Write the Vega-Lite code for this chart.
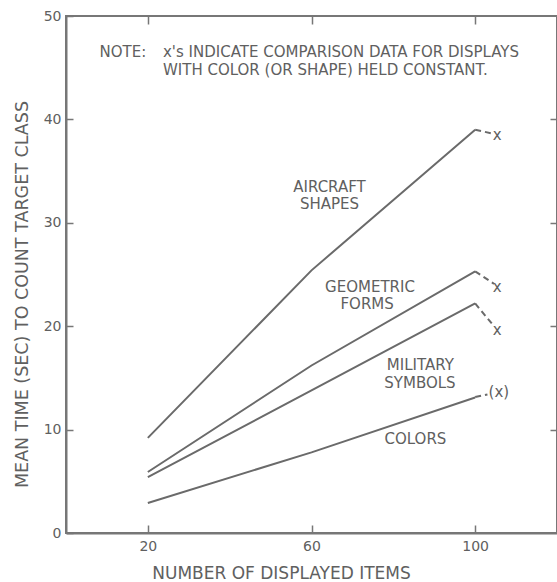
{
  "$schema": "https://vega.github.io/schema/vega-lite/v6.json",
  "width": 491,
  "height": 517,
  "autosize": {"type": "none"},
  "padding": {"left": 66, "top": 16, "right": 0, "bottom": 49},
  "background": "white",
  "config": {
    "view": {"stroke": "#777", "strokeWidth": 2},
    "font": "DejaVu Sans",
    "axis": {"grid": false, "domainColor": "#777", "domainWidth": 2, "tickColor": "#777", "tickWidth": 1.5, "labelColor": "#606060", "titleColor": "#606060", "labelFont": "DejaVu Sans", "titleFont": "DejaVu Sans"}
  },
  "datasets": {
    "main": [
      {"series": "aircraft", "x": 20, "y": 9.2}, {"series": "aircraft", "x": 60, "y": 25.4}, {"series": "aircraft", "x": 100, "y": 39.0},
      {"series": "geometric", "x": 20, "y": 5.9}, {"series": "geometric", "x": 60, "y": 16.2}, {"series": "geometric", "x": 100, "y": 25.3},
      {"series": "military", "x": 20, "y": 5.4}, {"series": "military", "x": 60, "y": 13.8}, {"series": "military", "x": 100, "y": 22.2},
      {"series": "colors", "x": 20, "y": 2.9}, {"series": "colors", "x": 60, "y": 7.8}, {"series": "colors", "x": 100, "y": 13.1}
    ],
    "dashes": [
      {"series": "aircraft", "x": 100, "y": 39.0}, {"series": "aircraft", "x": 104.6, "y": 38.6},
      {"series": "geometric", "x": 100, "y": 25.3}, {"series": "geometric", "x": 104.6, "y": 24.1},
      {"series": "military", "x": 100, "y": 22.2}, {"series": "military", "x": 104.6, "y": 20.0},
      {"series": "colors", "x": 100, "y": 13.15}, {"series": "colors", "x": 103.0, "y": 13.4}
    ],
    "marks": [
      {"x": 105.4, "y": 38.5, "t": "x"},
      {"x": 105.4, "y": 23.8, "t": "x"},
      {"x": 105.4, "y": 19.6, "t": "x"},
      {"x": 105.8, "y": 13.6, "t": "(x)"}
    ],
    "labels": [
      {"x": 64.4, "y": 33.5, "t": "AIRCRAFT"},
      {"x": 64.4, "y": 31.8, "t": "SHAPES"},
      {"x": 74.3, "y": 23.8, "t": "GEOMETRIC"},
      {"x": 73.6, "y": 22.1, "t": "FORMS"},
      {"x": 86.6, "y": 16.2, "t": "MILITARY"},
      {"x": 86.5, "y": 14.5, "t": "SYMBOLS"},
      {"x": 85.4, "y": 9.1, "t": "COLORS"}
    ],
    "note": [
      {"x": 8.2, "y": 46.5, "t": "NOTE:"},
      {"x": 23.7, "y": 46.5, "t": "x's INDICATE COMPARISON DATA FOR DISPLAYS"},
      {"x": 23.7, "y": 44.75, "t": "WITH COLOR (OR SHAPE) HELD CONSTANT."}
    ]
  },
  "layer": [
    {
      "data": {"name": "main"},
      "mark": {"type": "line", "color": "#6a6a6a", "strokeWidth": 2},
      "encoding": {
        "x": {"field": "x", "type": "quantitative", "scale": {"domain": [0, 120], "nice": false, "zero": false},
              "axis": {"orient": "bottom", "values": [20, 60, 100], "tickSize": -8, "labelPadding": 14, "labelFontSize": 14,
                       "title": "NUMBER OF DISPLAYED ITEMS", "titleFontSize": 17, "titleFontWeight": "normal", "titleX": 215, "titleY": 40, "titleBaseline": "middle", "titleAnchor": "start", "titleAlign": "center"}},
        "y": {"field": "y", "type": "quantitative", "scale": {"domain": [0, 50], "nice": false, "zero": false},
              "axis": {"orient": "left", "values": [0, 10, 20, 30, 40, 50], "tickSize": -7, "labelPadding": 12, "labelFontSize": 14,
                       "title": "MEAN TIME (SEC) TO COUNT TARGET CLASS", "titleFontSize": 17.5, "titleFontWeight": "normal", "titleX": -44, "titleY": 278, "titleBaseline": "middle", "titleAlign": "center", "titleAngle": -90}},
        "detail": {"field": "series", "type": "nominal"}
      }
    },
    {
      "data": {"name": "dashes"},
      "mark": {"type": "line", "color": "#6a6a6a", "strokeWidth": 2, "strokeDash": [6, 4]},
      "encoding": {
        "x": {"field": "x", "type": "quantitative", "scale": {"domain": [0, 120], "nice": false, "zero": false}, "axis": null},
        "y": {"field": "y", "type": "quantitative", "scale": {"domain": [0, 50], "nice": false, "zero": false}, "axis": null},
        "detail": {"field": "series", "type": "nominal"}
      }
    },
    {
      "data": {"name": "marks"},
      "mark": {"type": "text", "color": "#606060", "fontSize": 15, "baseline": "middle", "align": "center"},
      "encoding": {
        "x": {"field": "x", "type": "quantitative", "scale": {"domain": [0, 120], "nice": false, "zero": false}, "axis": null},
        "y": {"field": "y", "type": "quantitative", "scale": {"domain": [0, 50], "nice": false, "zero": false}, "axis": null},
        "text": {"field": "t", "type": "nominal"}
      }
    },
    {
      "data": {"name": "labels"},
      "mark": {"type": "text", "color": "#606060", "fontSize": 15, "baseline": "middle", "align": "center"},
      "encoding": {
        "x": {"field": "x", "type": "quantitative", "scale": {"domain": [0, 120], "nice": false, "zero": false}, "axis": null},
        "y": {"field": "y", "type": "quantitative", "scale": {"domain": [0, 50], "nice": false, "zero": false}, "axis": null},
        "text": {"field": "t", "type": "nominal"}
      }
    },
    {
      "data": {"name": "note"},
      "mark": {"type": "text", "color": "#606060", "fontSize": 15, "baseline": "middle", "align": "left"},
      "encoding": {
        "x": {"field": "x", "type": "quantitative", "scale": {"domain": [0, 120], "nice": false, "zero": false}, "axis": null},
        "y": {"field": "y", "type": "quantitative", "scale": {"domain": [0, 50], "nice": false, "zero": false}, "axis": null},
        "text": {"field": "t", "type": "nominal"}
      }
    },
    {
      "data": {"name": "main"},
      "mark": {"type": "line", "opacity": 0},
      "encoding": {
        "x": {"field": "x", "type": "quantitative", "scale": {"domain": [0, 120], "nice": false, "zero": false},
              "axis": {"orient": "top", "values": [20, 60, 100], "tickSize": -8, "labels": false, "domain": false, "title": null}},
        "y": {"field": "y", "type": "quantitative", "scale": {"domain": [0, 50], "nice": false, "zero": false},
              "axis": {"orient": "right", "values": [10, 20, 30, 40], "tickSize": -7, "labels": false, "domain": false, "title": null}},
        "detail": {"field": "series", "type": "nominal"}
      }
    }
  ],
  "resolve": {"axis": {"x": "independent", "y": "independent"}}
}
